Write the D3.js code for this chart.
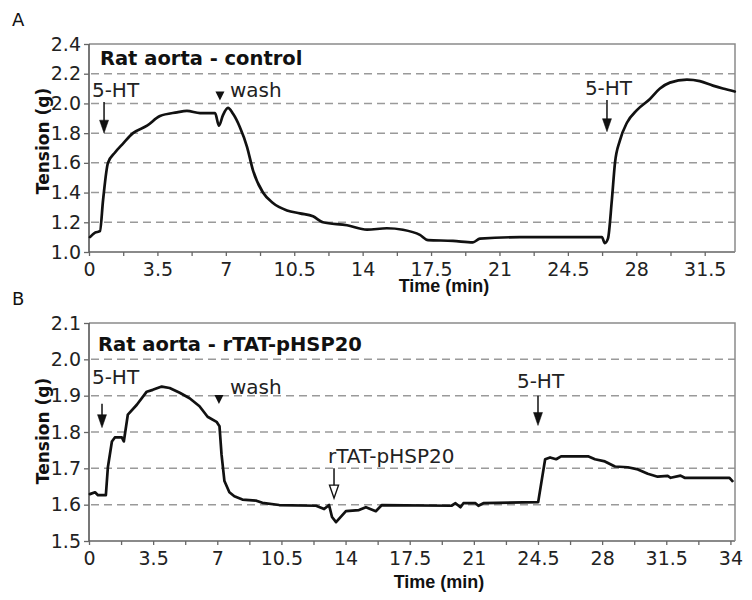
<!DOCTYPE html>
<html><head><meta charset="utf-8">
<script src="https://cdn.jsdelivr.net/npm/d3@7/dist/d3.min.js"></script>
<style>body{margin:0;background:#fff}svg{display:block}</style>
</head><body>
<script>
// ---------- Data ----------
const panelALabel = "A";
const panelBLabel = "B";
const titleA = "Rat aorta - control";
const titleB = "Rat aorta - rTAT-pHSP20";
const yLabel = "Tension (g)";
const xLabel = "Time (min)";

const timeA = [0.05,0.31,0.56,0.72,0.97,1.33,1.74,2.25,2.97,3.63,4.50,5.01,5.68,6.45,6.65,6.85,7.11,7.37,7.72,8.08,8.39,8.90,9.41,10.13,10.79,11.46,11.97,13.20,14.22,15.24,16.06,16.93,17.34,18.62,19.64,20.00,22.05,24.60,26.24,26.39,26.55,26.75,26.91,27.16,27.52,28.03,28.70,29.21,29.72,30.59,31.25,31.92,32.43,33.04];
const tensionA = [1.10,1.13,1.14,1.35,1.60,1.67,1.73,1.80,1.85,1.915,1.94,1.95,1.935,1.935,1.85,1.92,1.97,1.93,1.84,1.71,1.55,1.40,1.33,1.28,1.26,1.24,1.20,1.18,1.15,1.16,1.15,1.115,1.08,1.075,1.065,1.09,1.10,1.10,1.10,1.06,1.09,1.35,1.60,1.75,1.87,1.955,2.03,2.10,2.14,2.16,2.15,2.12,2.10,2.08];

const timeB = [0.05,0.33,0.49,0.92,1.03,1.25,1.41,1.79,1.90,2.12,2.61,3.15,3.48,3.97,4.40,4.95,5.49,6.03,6.47,6.96,7.12,7.23,7.39,7.66,7.93,8.37,9.13,9.46,10.38,12.39,12.83,13.10,13.26,13.48,14.02,14.73,15.11,15.65,15.98,19.78,20.00,20.27,20.43,21.09,21.25,21.52,24.51,24.89,25.16,25.49,25.76,27.23,27.61,28.15,28.70,29.40,29.95,30.49,31.03,31.58,31.74,32.28,32.50,33.37,34.95,35.11];
const tensionB = [1.629,1.634,1.626,1.626,1.703,1.774,1.785,1.785,1.774,1.848,1.875,1.911,1.916,1.925,1.921,1.908,1.893,1.871,1.842,1.828,1.816,1.739,1.665,1.634,1.623,1.614,1.611,1.605,1.599,1.597,1.588,1.599,1.566,1.552,1.582,1.585,1.593,1.582,1.599,1.597,1.604,1.593,1.604,1.604,1.597,1.604,1.607,1.725,1.73,1.725,1.733,1.733,1.725,1.719,1.705,1.703,1.697,1.685,1.677,1.679,1.674,1.68,1.674,1.674,1.674,1.665];

const xTicksA = [0,3.5,7,10.5,14,17.5,21,24.5,28,31.5];
const xTickLabelsA = ["0","3.5","7","10.5","14","17.5","21","24.5","28","31.5"];
const xTicksB = [0,3.5,7,10.5,14,17.5,21,24.5,28,31.5,35];
const xTickLabelsB = ["0","3.5","7","10.5","14","17.5","21","24.5","28","31.5","34"];
const yTicksA = [1.0,1.2,1.4,1.6,1.8,2.0,2.2,2.4];
const yTicksB = [1.5,1.6,1.7,1.8,1.9,2.0,2.1];

// annotations (in data units): text anchor, arrow x and arrow top/bottom
const annotA = [
  {text:"5-HT", tx:0.15, ty:2.043, ax:0.77, a0:2.01, a1:1.80, type:"arrow"},
  {text:"wash", tx:7.21, ty:2.043, ax:6.7, a0:2.08, a1:2.02, type:"tri"},
  {text:"5-HT", tx:25.37, ty:2.057, ax:26.5, a0:2.023, a1:1.81, type:"arrow"}
];
const annotB = [
  {text:"5-HT", tx:0.16, ty:1.933, ax:0.71, a0:1.878, a1:1.812, type:"arrow"},
  {text:"wash", tx:7.69, ty:1.905, ax:7.09, a0:1.902, a1:1.877, type:"tri"},
  {text:"rTAT-pHSP20", tx:13.04, ty:1.716, ax:13.37, a0:1.70, a1:1.618, type:"hollow"},
  {text:"5-HT", tx:23.35, ty:1.922, ax:24.5, a0:1.90, a1:1.818, type:"arrow"}
];

// ---------- Drawing ----------
const W = 752, H = 600;
const svg = d3.select("body").append("svg").attr("width", W).attr("height", H);

const FONT = "'DejaVu Sans', sans-serif";

function panel(cfg) {
  const x = d3.scaleLinear().domain(cfg.xDomain).range([89, 735]);
  const y = d3.scaleLinear().domain(cfg.yDomain).range([cfg.bottom, cfg.top]);
  const g = svg.append("g");

  g.append("text").attr("x", 12).attr("y", cfg.letterY).text(cfg.letter)
    .attr("font-family", FONT).attr("font-size", 18).attr("fill", "#111");

  // gridlines
  g.append("g").selectAll("line").data(cfg.yTicks.slice(1, -1)).join("line")
    .attr("x1", x(cfg.xDomain[0]) + 2).attr("x2", x(cfg.xDomain[1]))
    .attr("y1", d => y(d)).attr("y2", d => y(d))
    .attr("stroke", "#9a9a9a").attr("stroke-width", 1.5).attr("stroke-dasharray", "8,5");

  // frame (top & right)
  g.append("path")
    .attr("d", `M${x(cfg.xDomain[0])},${y(cfg.yDomain[1])}H${x(cfg.xDomain[1])}V${y(cfg.yDomain[0])}`)
    .attr("fill", "none").attr("stroke", "#8a8a8a").attr("stroke-width", 1.5);

  // x axis
  const minor = d3.range(0, cfg.xDomain[1] + 0.01, 1.75);
  const xAxis = g.append("g").attr("transform", `translate(0,${cfg.bottom})`)
    .call(d3.axisBottom(x).tickValues(minor).tickSize(4).tickFormat(""));
  xAxis.select(".domain").attr("stroke", "#8a8a8a").attr("stroke-width", 2.2)
    .attr("d", `M${x(cfg.xDomain[0])},0H${x(cfg.xDomain[1])}`);
  xAxis.selectAll(".tick line").attr("stroke", "#666").attr("stroke-width", 1.3);
  const xLab = g.append("g").attr("transform", `translate(0,${cfg.bottom})`)
    .call(d3.axisBottom(x).tickValues(cfg.xTicks).tickSize(0).tickPadding(11)
      .tickFormat((d, i) => cfg.xTickLabels[i]));
  xLab.select(".domain").remove();
  xLab.selectAll("text").attr("font-family", FONT).attr("font-size", 19).attr("fill", "#222");

  // y axis
  const yAxis = g.append("g").attr("transform", `translate(89,0)`)
    .call(d3.axisLeft(y).tickValues(cfg.yTicks).tickSize(5).tickPadding(3).tickFormat(d3.format(".1f")));
  yAxis.select(".domain").attr("stroke", "#555").attr("stroke-width", 1.6)
    .attr("d", `M0,${y(cfg.yDomain[0])}V${y(cfg.yDomain[1])}`);
  yAxis.selectAll(".tick line").attr("stroke", "#666").attr("stroke-width", 1.3);
  yAxis.selectAll("text").attr("font-family", FONT).attr("font-size", 19).attr("fill", "#222");

  // axis titles
  g.append("text").attr("transform", `translate(49,${cfg.yLabelY}) rotate(-90)`)
    .attr("text-anchor", "middle").text(yLabel)
    .attr("font-family", FONT).attr("font-weight", "bold").attr("font-size", 17).attr("fill", "#111");
  g.append("text").attr("x", cfg.xLabelX).attr("y", cfg.xLabelY).attr("text-anchor", "middle").text(xLabel)
    .attr("font-family", "'Liberation Sans', Arial, sans-serif").attr("font-weight", "bold")
    .attr("font-size", 18).attr("fill", "#111");

  // title
  g.append("text").attr("x", x(cfg.titleT)).attr("y", y(cfg.titleV)).text(cfg.title)
    .attr("font-family", FONT).attr("font-weight", "bold").attr("font-size", 19.5).attr("fill", "#111");

  // trace
  const pts = cfg.time.map((t, i) => [t, cfg.values[i]]);
  g.append("path").datum(pts)
    .attr("d", d3.line().curve(cfg.curve).x(d => x(d[0])).y(d => y(d[1])))
    .attr("fill", "none").attr("stroke", "#111").attr("stroke-width", 2.7)
    .attr("stroke-linejoin", "round").attr("stroke-linecap", "round");

  // annotations
  cfg.annots.forEach(a => {
    g.append("text").attr("x", x(a.tx)).attr("y", y(a.ty)).text(a.text)
      .attr("font-family", FONT).attr("font-size", 20).attr("fill", "#222");
    const ax = x(a.ax), top = y(a.a0), bot = y(a.a1);
    if (a.type === "tri") {
      g.append("path").attr("d", `M${ax - 4.5},${top}L${ax + 4.5},${top}L${ax},${bot}Z`).attr("fill", "#111");
    } else {
      const head = 13, hw = 4.5;
      g.append("line").attr("x1", ax).attr("x2", ax).attr("y1", top).attr("y2", bot - head + 1)
        .attr("stroke", "#111").attr("stroke-width", 1.5);
      g.append("path").attr("d", `M${ax - hw},${bot - head}L${ax + hw},${bot - head}L${ax},${bot}Z`)
        .attr("fill", a.type === "hollow" ? "#fff" : "#111")
        .attr("stroke", "#111").attr("stroke-width", a.type === "hollow" ? 1.4 : 0.5);
    }
  });
}

panel({
  letter: panelALabel, letterY: 26, title: titleA, titleT: 0.56, titleV: 2.258,
  xDomain: [0, 33.05], yDomain: [1.0, 2.4], top: 44, bottom: 252,
  xTicks: xTicksA, xTickLabels: xTickLabelsA, yTicks: yTicksA,
  time: timeA, values: tensionA, annots: annotA, curve: d3.curveMonotoneX,
  yLabelY: 141, xLabelX: 444, xLabelY: 292
});
panel({
  letter: panelBLabel, letterY: 305, title: titleB, titleT: 0.49, titleV: 2.023,
  xDomain: [0, 35.25], yDomain: [1.5, 2.1], top: 323, bottom: 541,
  xTicks: xTicksB, xTickLabels: xTickLabelsB, yTicks: yTicksB,
  time: timeB, values: tensionB, annots: annotB, curve: d3.curveLinear,
  yLabelY: 431, xLabelX: 439, xLabelY: 588
});
</script>
</body></html>
